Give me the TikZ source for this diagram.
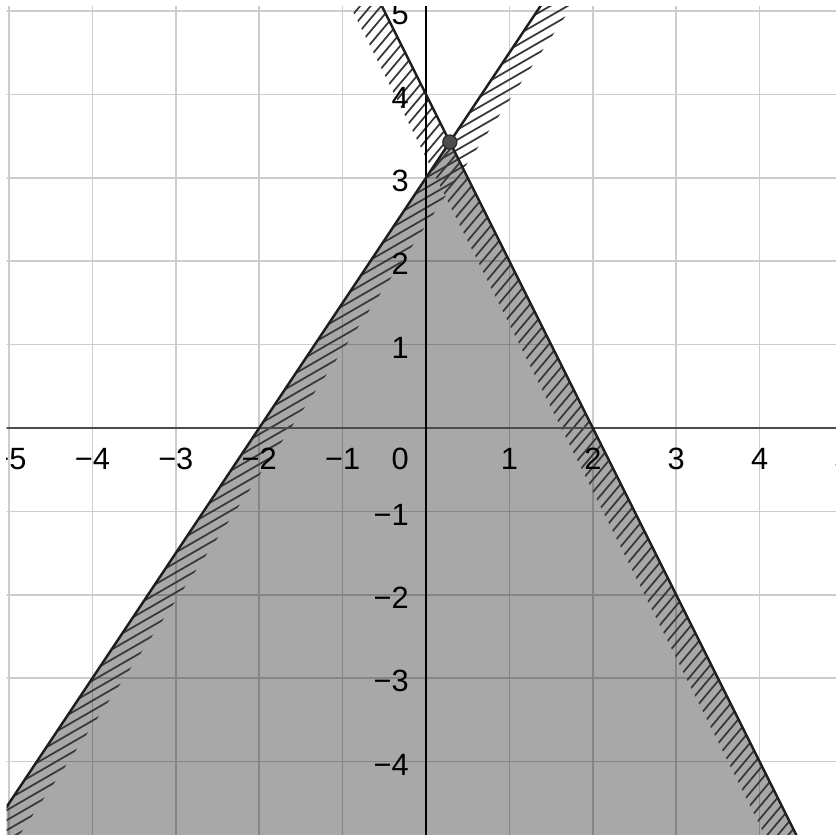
\documentclass[tikz,border=0pt]{standalone}
\usepackage{fontspec}
\setmainfont{Liberation Sans}
\usetikzlibrary{calc}
\tikzset{
  gridline/.style={draw=black!20, line width=0.5pt},
  region/.style={fill=black, fill opacity=0.34},
  hatch/.style={draw=black!78, line width=0.6pt},
  bound/.style={draw=black!88, line width=0.85pt},
  xaxis/.style={draw=black!70, line width=0.8pt},
  yaxis/.style={draw=black, line width=0.45pt},
  ticklab/.style={font=\fontsize{10.5}{12}\selectfont, inner sep=0pt, text=black},
  vertex/.style={circle, fill=black!70, draw=black!85, line width=0.4pt, minimum size=0.17cm, inner sep=0pt}
}
\begin{document}
\begin{tikzpicture}[x=1cm,y=1cm]
\useasboundingbox (-5.108,-4.880) rectangle (4.916,5.132);
\begin{scope}
\clip (-5.03,-4.880) rectangle (4.916,5.05);
% grid
\foreach \k in {-5,...,5} {
  \draw[gridline] (\k,-5) -- (\k,5.2);
  \draw[gridline] (-5.2,\k) -- (5.2,\k);
}
% key points
\coordinate (V) at (0.2857,3.4286);
\coordinate (L1a) at (-6,-6);
\coordinate (L1b) at (2,6);
\coordinate (L2a) at (5,-6);
\coordinate (L2b) at (-1,6);
% solution region
\fill[region] (L1a) -- (V) -- (L2a) -- cycle;
% hatching along line 1
\begin{scope}
\clip (L1a) -- (L1b) -- ++(0.38,0) -- ($(L1a)+(0.38,0)$) -- cycle;
\foreach \i in {-70,...,90} {
  \draw[hatch] (-7,{-4.0415+\i*0.12}) -- (3,{1.732+\i*0.12});
}
\end{scope}
% hatching along line 2
\begin{scope}
\clip (L2a) -- (L2b) -- ++(-0.38,0) -- ($(L2a)+(-0.38,0)$) -- cycle;
\foreach \i in {-80,...,40} {
  \draw[hatch] (-2,{-2.38+\i*0.15}) -- (6,{7.14+\i*0.15});
}
\end{scope}
% axes
\draw[xaxis] (-5.2,0) -- (5.2,0);
\draw[yaxis] (0,-5.2) -- (0,5.2);
% boundary lines
\draw[bound] (L1a) -- (L1b);
\draw[bound] (L2a) -- (L2b);
\node[vertex] (P) at (V) {};
% tick labels
\node[ticklab, anchor=base] (xm5) at (-5,-0.5) {−5};
\node[ticklab, anchor=base] (xm4) at (-4,-0.5) {−4};
\node[ticklab, anchor=base] (xm3) at (-3,-0.5) {−3};
\node[ticklab, anchor=base] (xm2) at (-2,-0.5) {−2};
\node[ticklab, anchor=base] (xm1) at (-1,-0.5) {−1};
\node[ticklab, anchor=base east] (x0) at (-0.2,-0.5) {0};
\node[ticklab, anchor=base] (x1) at (1,-0.5) {1};
\node[ticklab, anchor=base] (x2) at (2,-0.5) {2};
\node[ticklab, anchor=base] (x3) at (3,-0.5) {3};
\node[ticklab, anchor=base] (x4) at (4,-0.5) {4};
\node[ticklab, anchor=base] (x5) at (5,-0.5) {5};
\foreach \k/\t in {5/5,4/4,3/3,2/2,1/1,-1/−1,-2/−2,-3/−3,-4/−4} {
  \node[ticklab, anchor=base east] (y\k) at (-0.2,{\k-0.165}) {\t};
}
\end{scope}
\end{tikzpicture}
\end{document}
